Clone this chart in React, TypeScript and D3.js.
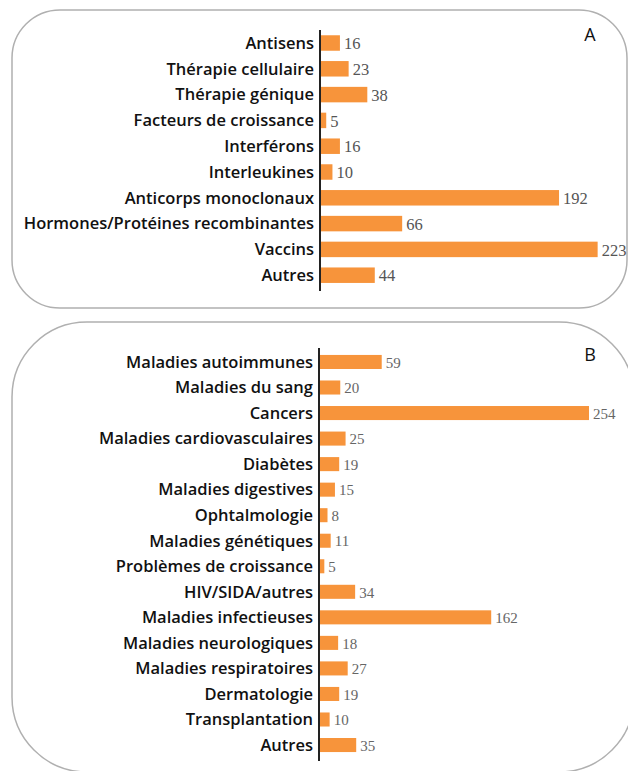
import React from 'react';
import * as d3 from 'd3';

// panel A: types de produits
const categoriesA = ['Antisens', 'Thérapie cellulaire', 'Thérapie génique', 'Facteurs de croissance', 'Interférons', 'Interleukines', 'Anticorps monoclonaux', 'Hormones/Protéines recombinantes', 'Vaccins', 'Autres'];
const valuesA = [16, 23, 38, 5, 16, 10, 192, 66, 223, 44];

// panel B: maladies ciblées
const categoriesB = ['Maladies autoimmunes', 'Maladies du sang', 'Cancers', 'Maladies cardiovasculaires', 'Diabètes', 'Maladies digestives', 'Ophtalmologie', 'Maladies génétiques', 'Problèmes de croissance', 'HIV/SIDA/autres', 'Maladies infectieuses', 'Maladies neurologiques', 'Maladies respiratoires', 'Dermatologie', 'Transplantation', 'Autres'];
const valuesB = [59, 20, 254, 25, 19, 15, 8, 11, 5, 34, 162, 18, 27, 19, 10, 35];

const ORANGE = '#f7943b';
const labelFont = '"Open Sans", sans-serif';
const valueFont = '"Liberation Serif", serif';

function roundedBox(x0: number, y0: number, x1: number, y1: number, r: number) {
  const p = d3.path();
  p.moveTo(x0 + r, y0);
  p.lineTo(x1 - r, y0);
  p.arcTo(x1, y0, x1, y0 + r, r);
  p.lineTo(x1, y1 - r);
  p.arcTo(x1, y1, x1 - r, y1, r);
  p.lineTo(x0 + r, y1);
  p.arcTo(x0, y1, x0, y1 - r, r);
  p.lineTo(x0, y0 + r);
  p.arcTo(x0, y0, x0 + r, y0, r);
  p.closePath();
  return p.toString();
}

type PanelProps = {
  categories: string[];
  values: number[];
  axisX: number;
  pxPerUnit: number;
  top: number;
  bottom: number;
  padInner: number;
  axisTop: number;
  axisBottom: number;
  valueSize: number;
  valueColor: string;
};

function Panel(props: PanelProps) {
  const { categories, values, axisX, pxPerUnit, top, bottom, padInner, axisTop, axisBottom, valueSize, valueColor } = props;
  const max = d3.max(values) as number;
  const x = d3.scaleLinear().domain([0, max]).range([axisX, axisX + max * pxPerUnit]);
  const y = d3.scaleBand<string>().domain(categories).range([top, bottom]).paddingInner(padInner).paddingOuter(padInner / 2);
  return (
    <g>
      {categories.map((c, i) => {
        const cy = (y(c) as number) + y.bandwidth() / 2;
        return (
          <g key={c}>
            <rect x={x(0)} y={y(c)} width={x(values[i]) - x(0)} height={y.bandwidth()} fill={ORANGE} />
            <text x={axisX - 6} y={cy} dy="0.35em" textAnchor="end" fontFamily={labelFont} fontWeight={600} fontSize={16.5} fill="#111">{c}</text>
            <text x={x(values[i]) + 4} y={cy} dy="0.38em" fontFamily={valueFont} fontSize={valueSize} fill={valueColor}>{values[i]}</text>
          </g>
        );
      })}
      <line x1={axisX} x2={axisX} y1={axisTop} y2={axisBottom} stroke="#222" strokeWidth={2} />
    </g>
  );
}

export default function App() {
  return (
    <svg width={628} height={771} style={{ position: 'absolute', left: 0, top: 0 }}>
      <rect width={628} height={771} fill="#fff" />
      <path d={roundedBox(12, 10, 627, 308, 48)} fill="none" stroke="#b0b0b0" strokeWidth={1.5} />
      <path d={roundedBox(12, 322, 634, 772, 75)} fill="none" stroke="#b0b0b0" strokeWidth={1.5} />
      <text x={590} y={41} textAnchor="middle" fontFamily={labelFont} fontSize={18} fill="#111">A</text>
      <text x={590} y={361} textAnchor="middle" fontFamily={labelFont} fontSize={18} fill="#111">B</text>
      <Panel categories={categoriesA} values={valuesA} axisX={320} pxPerUnit={1.245}
        top={30.1} bottom={288.1} padInner={0.4} axisTop={30} axisBottom={291} valueSize={16.5} valueColor="#555" />
      <Panel categories={categoriesB} values={valuesB} axisX={319} pxPerUnit={1.063}
        top={349.2} bottom={757.8} padInner={0.45} axisTop={348} axisBottom={761} valueSize={15} valueColor="#666" />
    </svg>
  );
}
